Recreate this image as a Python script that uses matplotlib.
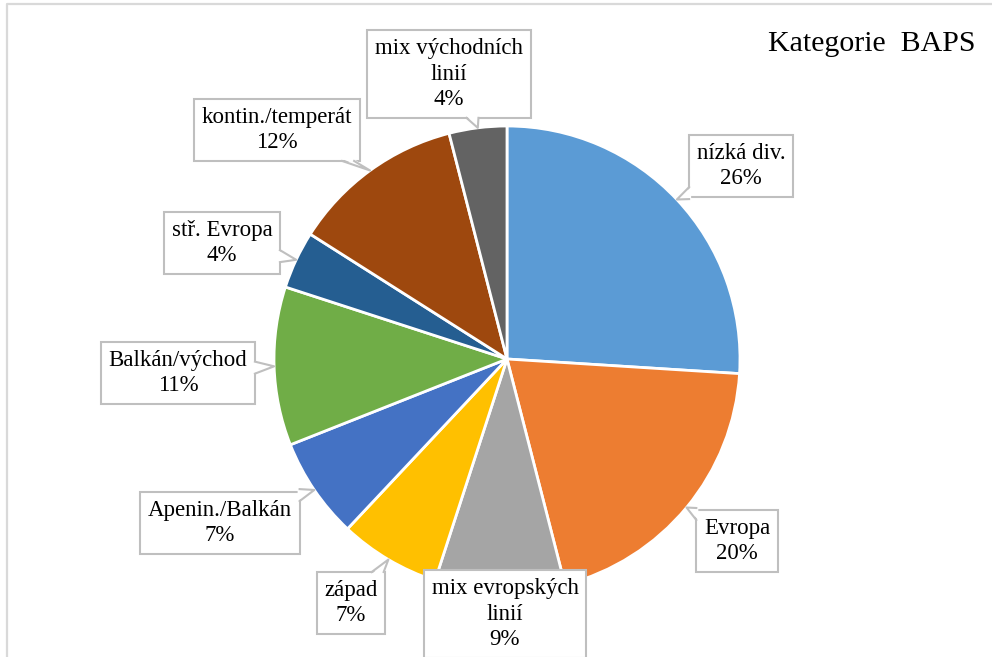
import numpy as np
import matplotlib
matplotlib.use('Agg')
import matplotlib.pyplot as plt
from matplotlib.patches import Polygon

plt.rcParams['font.family'] = ['Liberation Serif', 'DejaVu Serif']

categories = ['nízká div.', 'Evropa', 'mix evropských\nlinií', 'západ', 'Apenin./Balkán',
              'Balkán/východ', 'stř. Evropa', 'kontin./temperát', 'mix východních\nlinií']
shares = [26, 20, 9, 7, 7, 11, 4, 12, 4]
colors = ['#5B9BD5', '#ED7D31', '#A5A5A5', '#FFC000', '#4472C4',
          '#70AD47', '#255E91', '#9E480E', '#636363']
title = 'Kategorie  BAPS'

# label box centres, pixel coords from top-left
label_pos = [(741, 166), (737, 541), (505, 614), (351, 603), (220, 523),
             (178, 373), (222, 243), (277, 130), (449, 74)]

W, H = 992, 657
cx, cy, r = 507, H - 359, 233

fig = plt.figure(figsize=(W / 100, H / 100), dpi=100)
ax = fig.add_axes([0, 0, 1, 1])
wedges, _ = ax.pie(shares, colors=colors, startangle=90, counterclock=False,
                   center=(cx, cy), radius=r,
                   wedgeprops=dict(edgecolor='white', linewidth=2))
ax.set_xlim(0, W)
ax.set_ylim(0, H)
ax.set_aspect('equal')
ax.axis('off')

# frame of the chart area
ax.plot([7, 7, W + 5], [-5, H - 4, H - 4], color='#d9d9d9', lw=1.6, clip_on=False)

ax.text(976, H - 44, title, ha='right', va='center', fontsize=21.5)

texts = []
for name, val, (px, py) in zip(categories, shares, label_pos):
    t = ax.text(px, H - py, f'{name}\n{val}%', ha='center', va='center',
                fontsize=16.5, linespacing=1.3, zorder=5,
                bbox=dict(boxstyle='square,pad=0.33', fc='white', ec='#bfbfbf', lw=1.5))
    texts.append(t)

fig.canvas.draw()
renderer = fig.canvas.get_renderer()
inv = ax.transData.inverted()
for w, t in zip(wedges, texts):
    mid = np.deg2rad((w.theta1 + w.theta2) / 2)
    tip = np.array([cx + r * np.cos(mid), cy + r * np.sin(mid)])
    bb = t.get_bbox_patch().get_window_extent(renderer)
    (x0, y0), (x1, y1) = inv.transform([[bb.x0, bb.y0], [bb.x1, bb.y1]])
    if x0 <= tip[0] <= x1 and y0 <= tip[1] <= y1:
        continue
    c = np.array([(x0 + x1) / 2, (y0 + y1) / 2])
    d = tip - c
    # exit point of the segment centre->tip from the box
    s = min(((x1 - c[0]) / abs(d[0])) if d[0] else np.inf,
            ((y1 - c[1]) / abs(d[1])) if d[1] else np.inf)
    if s >= 1:
        continue
    e = c + d * s
    # base along the box edge
    if abs(d[0]) * (y1 - y0) > abs(d[1]) * (x1 - x0):
        b1, b2 = e + [0, 6], e - [0, 6]
        b1in, b2in = b1 - [np.sign(d[0]) * 2, 0], b2 - [np.sign(d[0]) * 2, 0]
    else:
        b1, b2 = e + [6, 0], e - [6, 0]
        b1in, b2in = b1 - [0, np.sign(d[1]) * 2], b2 - [0, np.sign(d[1]) * 2]
    ax.add_patch(Polygon([b1in, tip, b2in], closed=True, fc='white', ec='none', zorder=6))
    ax.plot([b1[0], tip[0], b2[0]], [b1[1], tip[1], b2[1]], color='#bfbfbf', lw=1.5, zorder=7)

fig.savefig('out.png', dpi=100, facecolor='white')
